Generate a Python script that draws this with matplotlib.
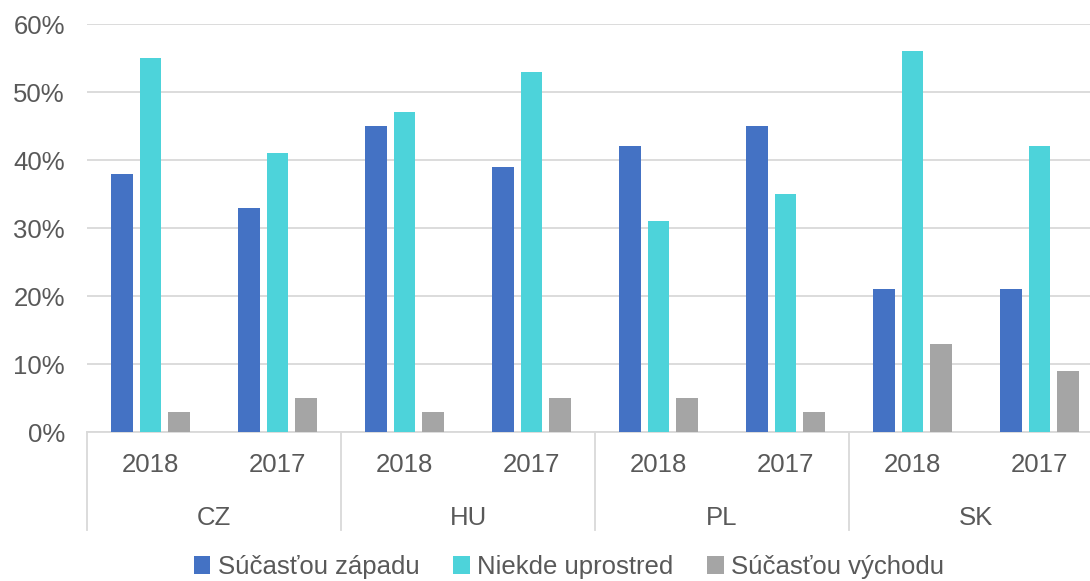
import matplotlib
matplotlib.use('Agg')
import matplotlib.pyplot as plt
import numpy as np

# data
countries = ['CZ', 'HU', 'PL', 'SK']
years = ['2018', '2017']
zapad = [38, 33, 45, 39, 42, 45, 21, 21]
stred = [55, 41, 47, 53, 31, 35, 56, 42]
vychod = [3, 5, 3, 5, 5, 3, 13, 9]
series_names = ['Súčasťou západu', 'Niekde uprostred', 'Súčasťou východu']
colors = ['#4472C4', '#4DD3DA', '#A5A5A5']

plt.rcParams['font.family'] = ['Liberation Sans', 'DejaVu Sans']
txt = '#595959'
fs = 18.5

fig = plt.figure(figsize=(10.9, 5.81), dpi=100)
ax = fig.add_axes([87/1090, 1 - 432/581, 1016/1090, 408/581])

x = np.arange(len(zapad))
w = 0.173
step = 0.224
for i, (vals, name, c) in enumerate(zip([zapad, stred, vychod], series_names, colors)):
    ax.bar(x + (i - 1)*step, vals, width=w, color=c, label=name, zorder=3)

ax.set_xlim(-0.5, len(zapad) - 0.5)
ax.set_ylim(0, 60)
ax.set_yticks(range(0, 61, 10))
ax.set_yticklabels(['{}%'.format(v) for v in range(0, 61, 10)], fontsize=fs, color=txt)
ax.yaxis.grid(True, color='#D9D9D9', linewidth=1.3, zorder=0)
ax.tick_params(axis='y', length=0, pad=16)
ax.tick_params(axis='x', length=0, pad=15)
ax.set_xticks(x)
ax.set_xticklabels(years * len(countries), fontsize=fs, color=txt)
for s in ['left', 'top', 'right']:
    ax.spines[s].set_visible(False)
ax.spines['bottom'].set_color('#D9D9D9')
ax.spines['bottom'].set_linewidth(1.3)

# country labels and separators
trans = ax.get_xaxis_transform()
for k, c in enumerate(countries):
    ax.text(2*k + 0.5, -86/408, c, transform=trans, ha='center', va='center',
            fontsize=fs, color=txt)
for k in range(len(countries) + 1):
    ax.plot([2*k - 0.5, 2*k - 0.5], [0, -98/408], transform=trans, color='#D9D9D9',
            linewidth=1.3, clip_on=False)

fig.legend(loc='center', bbox_to_anchor=(0.522, 1 - 567/581), ncol=3, frameon=False,
           fontsize=fs, labelcolor=txt, handlelength=0.65, handleheight=0.65,
           handletextpad=0.3, columnspacing=1.3)

fig.savefig('out.png', dpi=100)
